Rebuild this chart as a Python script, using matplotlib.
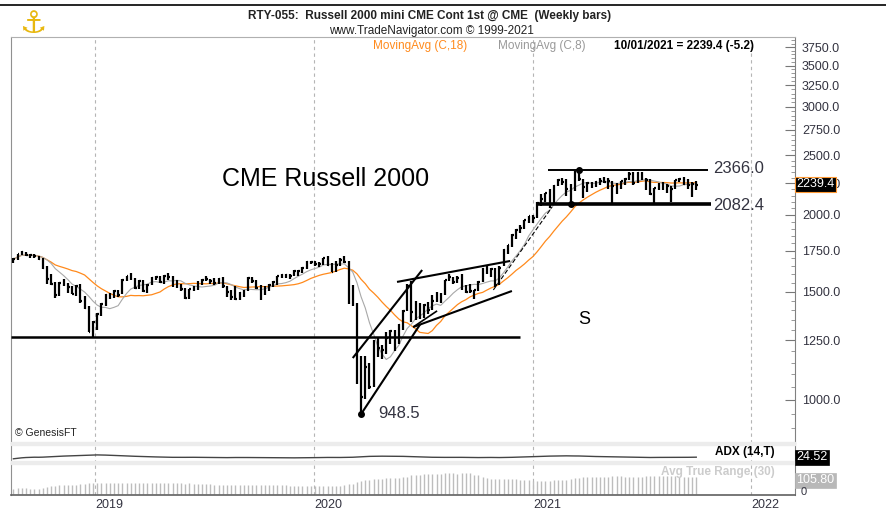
import numpy as np
import pandas as pd
import matplotlib
matplotlib.use('Agg')
import matplotlib.pyplot as plt
import matplotlib.ticker as ticker
from matplotlib import font_manager
from matplotlib.lines import Line2D
from matplotlib.patches import Rectangle

W, H = 886, 514

names = {f.name for f in font_manager.fontManager.ttflist}
SANS = 'Liberation Sans' if 'Liberation Sans' in names else 'DejaVu Sans'
NARROW = 'Liberation Sans Narrow' if 'Liberation Sans Narrow' in names else SANS
NSIZE = 10 if NARROW != SANS else 8.5
plt.rcParams['font.family'] = [SANS, 'DejaVu Sans']

# weekly bars (friday), RTY continuous contract
dates = pd.date_range('2018-08-17', '2021-10-01', freq='W-FRI')

highs = [
    # 2018
    1700, 1730, 1745, 1740, 1728, 1730, 1712, 1700, 1650, 1600, 1555, 1558, 1575, 1550, 1530, 1540, 1545, 1475, 1420, 1345,
    # 2019
    1385, 1440, 1485, 1495, 1510, 1510, 1572, 1592, 1606, 1580, 1565, 1570, 1545, 1585, 1590, 1590, 1595, 1610, 1590, 1565,
    1545, 1520, 1518, 1535, 1560, 1572, 1590, 1575, 1580, 1580, 1585, 1535, 1510, 1530, 1500, 1510, 1585, 1585, 1565, 1540,
    1530, 1545, 1562, 1592, 1605, 1605, 1600, 1627, 1630, 1645, 1680, 1685,
    # 2020
    1680, 1675, 1705, 1715, 1668, 1680, 1700, 1715, 1680, 1540, 1440, 1180, 1180, 1150, 1250, 1265, 1230, 1290, 1300, 1300,
    1330, 1400, 1545, 1560, 1450, 1440, 1435, 1445, 1480, 1500, 1490, 1570, 1600, 1585, 1590, 1600, 1540, 1545, 1510, 1560,
    1640, 1650, 1640, 1640, 1650, 1760, 1790, 1860, 1895, 1925, 1965, 1995, 2000,
    # 2021
    2100, 2165, 2175, 2205, 2235, 2290, 2300, 2285, 2245, 2355, 2366, 2290, 2265, 2265, 2275, 2300, 2305, 2300, 2275, 2250,
    2275, 2300, 2345, 2350, 2350, 2345, 2300, 2290, 2215, 2250, 2265, 2245, 2230, 2280, 2300, 2305, 2285, 2260, 2270,
]
lows = [
    1672, 1690, 1718, 1712, 1705, 1705, 1690, 1635, 1545, 1540, 1465, 1475, 1535, 1495, 1485, 1475, 1440, 1405, 1290, 1266,
    1300, 1370, 1420, 1460, 1465, 1470, 1485, 1560, 1565, 1515, 1515, 1500, 1495, 1540, 1565, 1550, 1545, 1570, 1525, 1520,
    1505, 1462, 1460, 1505, 1510, 1540, 1560, 1545, 1540, 1545, 1520, 1470, 1455, 1455, 1455, 1470, 1505, 1550, 1515, 1455,
    1480, 1505, 1525, 1540, 1580, 1580, 1575, 1590, 1590, 1610, 1635, 1665,
    1650, 1645, 1660, 1650, 1612, 1615, 1650, 1670, 1430, 1420, 1060, 948.5, 1005, 1040, 1050, 1175, 1165, 1190, 1235, 1200,
    1235, 1300, 1395, 1340, 1350, 1355, 1360, 1380, 1400, 1445, 1440, 1480, 1560, 1545, 1550, 1510, 1490, 1490, 1460, 1505,
    1555, 1605, 1585, 1525, 1540, 1650, 1730, 1775, 1830, 1870, 1900, 1940, 1940,
    1975, 2070, 2100, 2055, 2080, 2225, 2235, 2145, 2082.4, 2185, 2270, 2130, 2180, 2215, 2220, 2235, 2250, 2200, 2090, 2160,
    2200, 2240, 2280, 2240, 2250, 2280, 2195, 2155, 2095, 2195, 2195, 2175, 2100, 2200, 2260, 2240, 2205, 2135, 2195,
]
closes = [
    1693, 1725, 1740, 1720, 1718, 1712, 1697, 1640, 1572, 1544, 1480, 1551, 1549, 1524, 1488, 1533, 1448, 1411, 1292, 1337,
    1380, 1430, 1482, 1482, 1502, 1483, 1569, 1590, 1578, 1522, 1560, 1506, 1539, 1581, 1585, 1555, 1591, 1585, 1552, 1535,
    1514, 1465, 1514, 1518, 1549, 1567, 1572, 1560, 1547, 1575, 1533, 1497, 1473, 1459, 1495, 1505, 1578, 1559, 1523, 1500,
    1511, 1536, 1558, 1589, 1596, 1599, 1590, 1624, 1623, 1638, 1677, 1678,
    1661, 1664, 1700, 1655, 1614, 1657, 1687, 1678, 1476, 1450, 1200, 1010, 1130, 1050, 1240, 1215, 1205, 1260, 1293, 1232,
    1322, 1394, 1535, 1388, 1418, 1368, 1425, 1403, 1450, 1470, 1480, 1567, 1585, 1557, 1579, 1536, 1497, 1506, 1509, 1555,
    1636, 1620, 1635, 1538, 1638, 1754, 1787, 1855, 1893, 1904, 1964, 1992, 1975,
    2091, 2123, 2168, 2073, 2233, 2282, 2266, 2201, 2192, 2352, 2286, 2221, 2254, 2243, 2264, 2272, 2266, 2271, 2228, 2208,
    2269, 2287, 2335, 2251, 2343, 2297, 2281, 2163, 2209, 2226, 2235, 2226, 2201, 2277, 2292, 2249, 2237, 2244.6, 2239.4,
]

# trend lines drawn on the chart: (start date, start price, end date, end price, width)
trend_lines = [
    ('2018-08-13', 1264, '2020-12-10', 1264, 1.8),
    ('2020-03-06', 1170, '2020-06-30', 1627, 1.5),
    ('2020-03-20', 948.5, '2020-06-27', 1329, 1.5),
    ('2020-06-15', 1314, '2020-11-27', 1504, 1.5),
    ('2020-05-19', 1556, '2020-11-24', 1683, 1.5),
    ('2020-06-15', 1314, '2020-07-25', 1396, 1.2),
    ('2021-01-27', 2366, '2021-10-20', 2366, 1.4),
    ('2021-01-08', 2082.4, '2021-10-25', 2082.4, 2.6),
]
year_ticks = ['2019', '2020', '2021', '2022']

df = pd.DataFrame({'high': highs, 'low': lows, 'close': closes}, index=dates)
ma18 = df['close'].rolling(18, min_periods=1).mean()
ma8 = df['close'].rolling(8, min_periods=1).mean()

prev = df['close'].shift()
tr = pd.concat([df['high'] - df['low'], (df['high'] - prev).abs(),
                (df['low'] - prev).abs()], axis=1).max(axis=1)
atr30 = tr.rolling(30, min_periods=1).mean()

# wilder ADX(14)
up = df['high'].diff()
dn = -df['low'].diff()
pdm = pd.Series(np.where((up > dn) & (up > 0), up, 0.0), index=dates)
mdm = pd.Series(np.where((dn > up) & (dn > 0), dn, 0.0), index=dates)
tr14 = tr.ewm(alpha=1/14, adjust=False).mean()
pdi = 100 * pdm.ewm(alpha=1/14, adjust=False).mean() / tr14
mdi = 100 * mdm.ewm(alpha=1/14, adjust=False).mean() / tr14
dx = (100 * (pdi - mdi).abs() / (pdi + mdi)).fillna(0)
adx = dx.ewm(alpha=1/14, adjust=False).mean()

fig = plt.figure(figsize=(W/100, H/100), dpi=100)
ax = fig.add_axes([11/W, 1-443/H, 784/W, 406/H])
ax_adx = fig.add_axes([11/W, 1-463/H, 784/W, 20/H], sharex=ax)
ax_atr = fig.add_axes([11/W, 1-495/H, 784/W, 32/H], sharex=ax)

# price bars
half = pd.Timedelta(days=2.8)
ax.vlines(df.index, df['low'], df['high'], color='black', lw=1.6, zorder=4)
ax.hlines(df['close'], df.index, df.index + half, color='black', lw=1.6, zorder=4)
ax.plot(df.index, ma18, color='#ff8a1c', lw=0.9, zorder=3)
ax.plot(df.index, ma8, color='#a8a8a8', lw=0.8, zorder=3)

for d0, p0, d1, p1, lw in trend_lines:
    ax.plot([pd.Timestamp(d0), pd.Timestamp(d1)], [p0, p1], color='black', lw=lw, zorder=5,
            solid_capstyle='butt')
ax.plot([pd.Timestamp('2020-10-27'), pd.Timestamp('2021-02-02')], [1510, 2059],
        color='black', lw=0.8, ls=(0, (4, 2)), zorder=5)

# marked extremes
lo_day = df['low'].idxmin()
hi_day = df['high'].idxmax()
sup_day = df.loc['2021-03', 'low'].idxmin()
ax.plot([lo_day, hi_day, sup_day], [df['low'][lo_day], df['high'][hi_day], df['low'][sup_day]],
        'o', color='black', ms=4, zorder=6)

txt = '#333340'
ax.text(pd.Timestamp('2020-04-17'), 952, '948.5', fontsize=12, color=txt, va='center')
ax.text(pd.Timestamp('2021-10-29'), 2380, '2366.0', fontsize=12, color=txt, va='center')
ax.text(pd.Timestamp('2021-10-29'), 2075, '2082.4', fontsize=12, color=txt, va='center')
ax.text(pd.Timestamp('2020-01-21'), 2288, 'CME Russell 2000', fontsize=18, color='black',
        ha='center', va='center')
ax.text(pd.Timestamp('2021-03-28'), 1354, 'S', fontsize=13, color='black', ha='center', va='center')

ax.set_yscale('log')
ax.set_ylim(851, 3895)
ax.yaxis.tick_right()
major = [1000, 1250, 1500, 1750, 2000, 2250, 2500, 2750, 3000, 3250, 3500, 3750]
ax.set_yticks(major)
ax.set_yticklabels([f'{v:.1f}' for v in major])
ax.yaxis.set_minor_locator(ticker.FixedLocator([v for v in range(900, 3900, 50) if v not in major]))
ax.yaxis.set_minor_formatter(ticker.NullFormatter())
ax.tick_params(axis='y', which='major', direction='in', length=7, color='#777777',
               labelsize=9, labelcolor=txt, pad=5)
ax.tick_params(axis='y', which='minor', direction='in', length=3, color='#888888')
ax.tick_params(axis='x', bottom=False, labelbottom=False)

ax_adx.plot(df.index, adx, color='#444444', lw=1)
ax_adx.set_ylim(-60, 225)
ax_adx.set_yticks([])
ax_adx.tick_params(axis='x', bottom=False, labelbottom=False)

ax_atr.vlines(df.index, 0, atr30, color='#bdbdbd', lw=1)
ax_atr.set_ylim(-5, 170)
ax_atr.set_yticks([])
ax_atr.set_xlim(pd.Timestamp('2018-08-13'), pd.Timestamp('2022-03-15'))
ticks = [pd.Timestamp(y + '-01-01') for y in year_ticks]
ax_atr.set_xticks(ticks)
ax_atr.set_xticklabels(year_ticks)
ax_atr.tick_params(axis='x', length=0, labelsize=9, labelcolor=txt, pad=3)
for lab in ax_atr.get_xticklabels():
    lab.set_ha('left')

for a in (ax, ax_adx, ax_atr):
    for t in ticks:
        a.axvline(t, color='#b5b5b5', lw=0.8, ls=(0, (3, 3)), zorder=1)
    a.spines['left'].set_color('#909090')
    a.spines['right'].set_color('#808080')
    a.spines['top'].set_visible(False)
    a.spines['bottom'].set_visible(False)
ax.spines['top'].set_visible(True)
ax.spines['top'].set_color('#b0b0b0')
ax_atr.spines['bottom'].set_visible(True)
ax_atr.spines['bottom'].set_color('#606060')
ax_atr.spines['bottom'].set_linewidth(1.2)

# panel separators
for y0 in (442, 461):
    fig.add_artist(Rectangle((11/W, 1-(y0+3)/H), 784/W, 3/H, transform=fig.transFigure,
                             color='#ececec', zorder=10))
fig.add_artist(Line2D([0, 1], [1-5/H, 1-5/H], color='black', lw=1.2, transform=fig.transFigure))


def ft(x, y, s, **kw):
    fig.text(x/W, 1-y/H, s, va='center', zorder=20, **kw)


ft(33, 24, '⚓', fontsize=22, color='#e8b810', family='DejaVu Sans', ha='center')
ft(430, 16, 'RTY-055:  Russell 2000 mini CME Cont 1st @ CME  (Weekly bars)',
   fontsize=NSIZE, family=NARROW, weight='bold', color='#222222', ha='center')
ft(431, 31, 'www.TradeNavigator.com © 1999-2021', fontsize=NSIZE, family=NARROW,
   color='#222222', ha='center')
ft(373, 46, 'MovingAvg (C,18)', fontsize=NSIZE, family=NARROW, color='#ff8a1c')
ft(498, 46, 'MovingAvg (C,8)', fontsize=NSIZE, family=NARROW, color='#999999')
ft(614, 46, '10/01/2021 = 2239.4 (-5.2)', fontsize=NSIZE, family=NARROW, weight='bold', color='black')
ft(15, 433, '© GenesisFT', fontsize=7.5, color='#222222')
ft(775, 452, 'ADX (14,T)', fontsize=NSIZE, family=NARROW, weight='bold', color='black', ha='right')
ft(775, 472, 'Avg True Range (30)', fontsize=NSIZE, family=NARROW, weight='bold',
   color='#cccccc', ha='right')

ft(796, 184, '2239.4', fontsize=9, color='white',
   bbox=dict(boxstyle='square,pad=0.12', fc='black', ec='#ff9933', lw=0.8))
ft(796, 457, '24.52', fontsize=9, color='white',
   bbox=dict(boxstyle='square,pad=0.12', fc='black', ec='black', lw=0.5))
ft(796, 480, '105.80', fontsize=9, color='white',
   bbox=dict(boxstyle='square,pad=0.12', fc='#b8b8b8', ec='#b8b8b8', lw=0.5))
ft(801, 492, '0', fontsize=8, color=txt)

fig.savefig('out.png', dpi=100)
